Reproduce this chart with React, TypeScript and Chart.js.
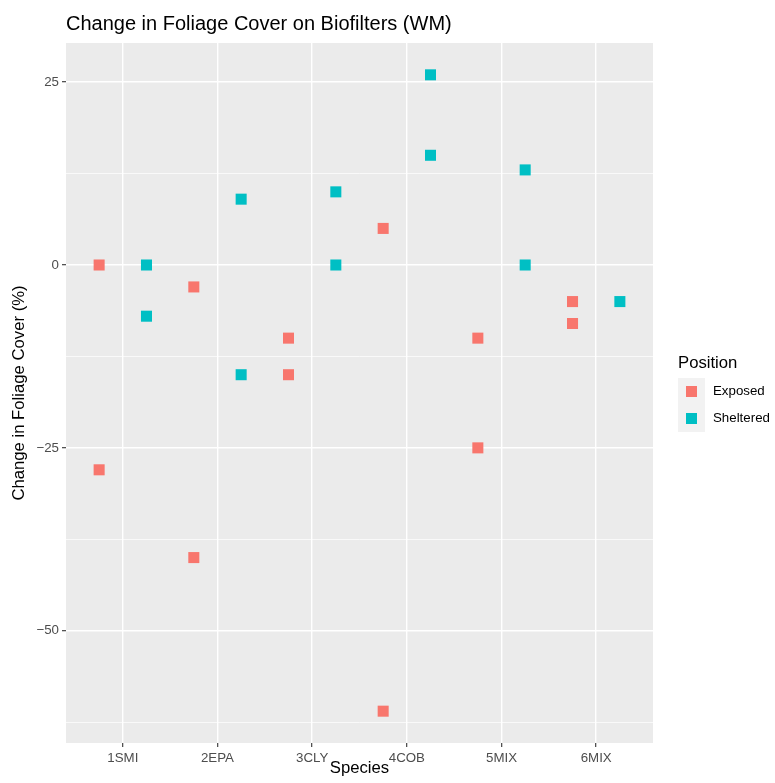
import React, { useEffect, useRef } from "react";
import { Chart, registerables } from "chart.js";

Chart.register(...registerables);

const categories = ["1SMI", "2EPA", "3CLY", "4COB", "5MIX", "6MIX"];
const seriesNames = ["Exposed", "Sheltered"];
const seriesColors = ["#F8766D", "#00BFC4"];

const exposedSpecies = ["1SMI", "1SMI", "2EPA", "2EPA", "3CLY", "3CLY", "4COB", "4COB", "5MIX", "5MIX", "6MIX", "6MIX"];
const exposedValues = [0, -28, -3, -40, -10, -15, 5, -61, -10, -25, -5, -8];

const shelteredSpecies = ["1SMI", "1SMI", "2EPA", "2EPA", "3CLY", "3CLY", "4COB", "4COB", "5MIX", "5MIX", "6MIX"];
const shelteredValues = [0, -7, 9, -15, 10, 0, 26, 15, 13, 0, -5];

const yMajorTicks = [-50, -25, 0, 25];
const yMinorTicks = [-62.5, -37.5, -12.5, 12.5];

const titleText = "Change in Foliage Cover on Biofilters (WM)";
const xTitle = "Species";
const yTitle = "Change in Foliage Cover (%)";
const legendTitle = "Position";

const FONT = "'Liberation Sans', Arial, Helvetica, sans-serif";
const dodge = 0.25;

function toPoints(species: string[], values: number[], offset: number) {
  return species.map((s, i) => ({ x: categories.indexOf(s) + 1 + offset, y: values[i] }));
}

const fmt = (v: number) => (v < 0 ? "\u2212" + Math.abs(v) : String(v));

export default function App() {
  const ref = useRef<HTMLCanvasElement | null>(null);

  useEffect(() => {
    if (!ref.current) return;
    const decor = {
      id: "decor",
      beforeDraw(chart: any) {
        const { ctx, chartArea: a } = chart;
        ctx.save();
        ctx.fillStyle = "#FFFFFF";
        ctx.fillRect(0, 0, chart.width, chart.height);
        ctx.fillStyle = "#EBEBEB";
        ctx.fillRect(a.left, a.top, a.right - a.left, a.bottom - a.top);
        ctx.restore();
      },
      afterDraw(chart: any) {
        const { ctx, chartArea: a } = chart;
        ctx.save();
        ctx.fillStyle = "#000000";
        // title
        ctx.font = `20px ${FONT}`;
        ctx.textAlign = "left";
        ctx.textBaseline = "alphabetic";
        ctx.fillText(titleText, a.left, 30);
        // x title
        ctx.font = `16.7px ${FONT}`;
        ctx.textAlign = "center";
        ctx.fillText(xTitle, (a.left + a.right) / 2, 773);
        // y title
        ctx.save();
        ctx.translate(19, (a.top + a.bottom) / 2);
        ctx.rotate(-Math.PI / 2);
        ctx.textBaseline = "middle";
        ctx.fillText(yTitle, 0, 0);
        ctx.restore();
        // legend
        const lx = 678;
        ctx.textAlign = "left";
        ctx.textBaseline = "alphabetic";
        ctx.font = `16.7px ${FONT}`;
        ctx.fillText(legendTitle, lx, 368);
        const keyTop = 378;
        const keySize = 27;
        ctx.font = `13.3px ${FONT}`;
        seriesNames.forEach((name, i) => {
          const ky = keyTop + i * keySize;
          ctx.fillStyle = "#F2F2F2";
          ctx.fillRect(lx, ky, keySize, keySize);
          ctx.fillStyle = seriesColors[i];
          ctx.fillRect(lx + keySize / 2 - 5.5, ky + keySize / 2 - 5.5, 11, 11);
          ctx.fillStyle = "#000000";
          ctx.textBaseline = "middle";
          ctx.fillText(name, lx + keySize + 8, ky + keySize / 2);
        });
        ctx.restore();
      },
    };

    const chart = new Chart(ref.current, {
      type: "scatter",
      data: {
        datasets: [
          {
            label: seriesNames[0],
            data: toPoints(exposedSpecies, exposedValues, -dodge),
            backgroundColor: seriesColors[0],
            borderWidth: 0,
            pointStyle: "rect",
            pointRadius: 7.8,
          },
          {
            label: seriesNames[1],
            data: toPoints(shelteredSpecies, shelteredValues, dodge),
            backgroundColor: seriesColors[1],
            borderWidth: 0,
            pointStyle: "rect",
            pointRadius: 7.8,
          },
        ],
      },
      options: {
        animation: false,
        responsive: false,
        devicePixelRatio: 1,
        events: [],
        layout: { padding: { left: 0, right: 122, top: 43, bottom: 0 } },
        plugins: {
          legend: { display: false },
          title: { display: false },
          tooltip: { enabled: false },
        },
        scales: {
          x: {
            type: "linear",
            min: 0.4,
            max: 6.6,
            afterBuildTicks: (s: any) => {
              s.ticks = categories.map((_, i) => ({ value: i + 1 }));
            },
            afterFit: (s: any) => {
              s.height = 40;
            },
            ticks: {
              autoSkip: false,
              maxRotation: 0,
              padding: 3,
              color: "#4D4D4D",
              font: { family: FONT, size: 13.3 },
              callback: (v: any) => categories[Math.round(Number(v)) - 1] ?? "",
            },
            grid: {
              color: "#FFFFFF",
              lineWidth: 1.4,
              drawTicks: true,
              tickLength: 4,
              tickColor: "#333333",
              tickWidth: 1.1,
            },
            border: { display: false },
          },
          y: {
            type: "linear",
            min: -65.35,
            max: 30.35,
            afterBuildTicks: (s: any) => {
              s.ticks = [...yMinorTicks, ...yMajorTicks].sort((p, q) => p - q).map((v) => ({ value: v }));
            },
            afterFit: (s: any) => {
              s.width = 66;
            },
            ticks: {
              autoSkip: false,
              padding: 3,
              color: "#4D4D4D",
              font: { family: FONT, size: 13.3 },
              callback: (v: any) => (yMajorTicks.includes(Number(v)) ? fmt(Number(v)) : ""),
            },
            grid: {
              color: "#FFFFFF",
              lineWidth: (c: any) => (yMajorTicks.includes(c.tick?.value) ? 1.4 : 0.7),
              drawTicks: true,
              tickLength: 4,
              tickColor: (c: any) => (yMajorTicks.includes(c.tick?.value) ? "#333333" : "rgba(0,0,0,0)"),
              tickWidth: 1.1,
            },
            border: { display: false },
          },
        },
      },
      plugins: [decor],
    });
    return () => chart.destroy();
  }, []);

  return (
    <div style={{ position: "fixed", left: 0, top: 0, width: 775, height: 783, background: "#fff" }}>
      <canvas ref={ref} width={775} height={783} style={{ display: "block" }} />
    </div>
  );
}
